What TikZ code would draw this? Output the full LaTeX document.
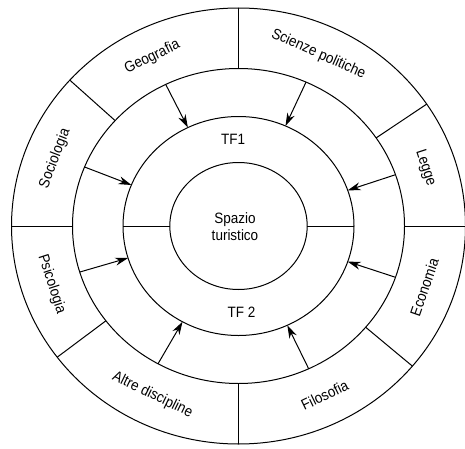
\documentclass[tikz,border=0pt]{standalone}
\usepackage{fontspec}
\setmainfont{Liberation Sans}[FakeStretch=0.9]
\usetikzlibrary{arrows.meta,calc}
\begin{document}
\begin{tikzpicture}[x=1pt, y=1pt,
  anello/.style={draw, line width=1pt},
  campo/.style={font=\fontsize{15}{17}\selectfont, inner sep=1pt},
  freccia/.style={-{Stealth[length=13pt, width=8pt]}, line width=1pt}
]
\useasboundingbox (0,0) rectangle (465,448);
\coordinate (C) at (238.5,222);
% anelli
\draw[anello] (C) ellipse [x radius=227, y radius=218];
\draw[anello] (C) ellipse [x radius=166, y radius=157.5];
\draw[anello] (C) ellipse [x radius=115.5, y radius=109.5];
\draw[anello] (C) ellipse [x radius=68.7, y radius=63.5];
% settori delle discipline
\foreach \a in {0,34,90,138,180,217,270,320}
  \draw[anello] ($(C)+(\a:166 and 157.5)$) -- ($(C)+(\a:227 and 218)$);
\foreach \a in {0,180}
  \draw[anello] ($(C)+(\a:68.7 and 63.5)$) -- ($(C)+(\a:115.5 and 109.5)$);
% discipline
\foreach \nome/\t/\a/\r in {legge/Legge/18/-72, scienze/Scienze politiche/66/-24,
    geografia/Geografia/116/26, sociologia/Sociologia/159/69,
    psicologia/Psicologia/198/-72, altre/Altre discipline/244/-26,
    filosofia/Filosofia/296/26, economia/Economia/341/71}
  \node[campo, rotate=\r] (\nome) at ($(C)+(\a:196.5 and 188)$) {\t};
% frecce verso lo spazio turistico
\foreach \a in {19,66,116,158,197,241,295,341} {
  \coordinate (m\a) at ($(C)+(\a:166 and 157.5)$);
  \coordinate (t\a) at ($(C)+(\a:115.5 and 109.5)$);
  \draw[freccia] (m\a) -- (t\a);
}
\node[campo] (tf1) at (233,309) {TF1};
\node[campo] (tf2) at (241.5,136) {TF 2};
\node[campo, align=center] (spazio) at (235,221) {Spazio\\turistico};
\end{tikzpicture}
\end{document}
